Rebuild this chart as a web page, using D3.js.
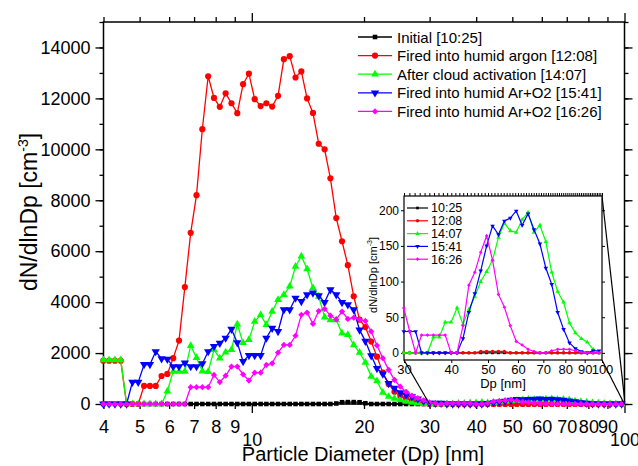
<!DOCTYPE html>
<html><head><meta charset="utf-8">
<script src="https://cdn.jsdelivr.net/npm/d3@7"></script>
<style>body{margin:0;background:#fff} text{font-family:"Liberation Sans",Arial,Helvetica,sans-serif}</style>
</head><body><svg id="c" width="638" height="466"></svg>
<script>
// Particle diameters (nm), SMPS channels
const diameters = [3.996,4.141,4.293,4.450,4.613,4.782,4.958,5.139,5.328,5.523,
5.726,5.935,6.153,6.378,6.612,6.855,7.106,7.366,7.637,7.916,
8.206,8.507,8.819,9.142,9.475,9.822,10.18,10.56,10.94,11.34,
11.76,12.19,12.64,13.10,13.58,14.07,14.59,15.12,15.68,16.25,
16.85,17.46,18.10,18.77,19.46,20.17,20.91,21.67,22.47,23.29,
24.14,25.03,25.94,26.89,27.88,28.90,29.96,31.06,32.20,33.38,
34.59,35.86,37.18,38.54,39.95,41.42,42.94,44.51,46.14,47.83,
49.58,51.40,53.28,55.24,57.26,59.36,61.54,63.79,66.13,68.55,
71.06,73.66,76.36,79.16,82.06,85.07,88.19,91.42,94.77,98.24];

const initial1025 = [0,0,0,0,0,0,0,0,0,0,
0,0,0,0,0,0,0,0,0,0,
0,0,0,0,0,0,0,0,0,0,
0,0,0,0,0,0,0,0,0,0,
20,70,75,75,70,30,0,0,0,0,
0,0,0,0,0,0,0,0,0,0,
0,0,0,0,0,0,0,0,0,0,
0,0,0,0,0,0,0,0,0,0,
0,0,0,0,0,0,0,0,0,0];

const humidArgon1208 = [1700,1700,1700,1700,0,0,0,710,710,710,
1100,1180,1800,2490,4590,6720,8200,10790,12870,12020,
11670,12200,11810,11420,12560,12970,11970,11700,11810,11680,
12100,13540,13660,12820,13060,12000,11430,10220,10000,8860,
7300,6390,5450,4230,3310,3020,2450,1860,1230,790,
480,315,224,130,70,30,0,0,0,0,
0,0,0,0,0,0,0,0,0,2,
2,2,2,2,0,0,0,0,0,0,
0,0,0,0,0,0,0,0,0,0];

const cloudActivation1407 = [1730,1730,1730,1730,0,0,0,0,0,0,
0,500,1280,1280,1280,2290,1820,1290,1270,2130,
1800,2030,2130,3130,2400,2520,3240,3500,3110,3630,
4090,4290,4620,5400,5800,5300,4560,4220,3410,3300,
3300,2780,2720,2320,2020,1630,1080,900,450,290,
220,160,100,60,30,10,0,0,0,0,
0,22,22,43,43,63,40,61,79,100,
114,130,162,182,171,169,187,197,169,179,
156,113,86,71,42,28,20,15,5,0];

const arO2_1541 = [0,0,0,0,0,860,860,1550,1550,2060,
1780,1760,1470,1470,1610,1470,1470,1580,2060,2260,
2390,2590,2940,2410,1670,1910,1910,1910,2590,2980,
2850,3700,3700,4160,4030,4290,4360,4250,3990,4490,
4290,3990,3900,3700,2910,2470,1900,1400,1180,810,
620,445,354,288,200,110,30,30,30,0,
0,0,0,0,0,0,20,57,83,115,
150,178,166,185,189,199,179,195,173,153,
119,96,57,33,14,6,2,0,3,3];

const arO2_1626 = [0,0,0,0,0,0,0,0,0,0,
0,0,0,0,0,660,660,660,660,1140,
860,1110,1470,1470,1160,920,1230,1230,1535,1600,
2020,2320,2320,2680,3500,3590,3150,3650,3740,3470,
3320,3630,3340,3390,3310,3260,2850,2300,1800,1340,
950,680,480,330,230,140,63,30,0,25,
25,25,25,25,0,0,38,95,113,141,
164,130,82,64,38,16,11,5,2,0,
0,3,5,5,5,3,1,0,0,0];

const legendLabels = ["Initial [10:25]","Fired into humid argon [12:08]","After cloud activation [14:07]","Fired into humid Ar+O2 [15:41]","Fired into humid Ar+O2 [16:26]"];
const insetLabels = ["10:25","12:08","14:07","15:41","16:26"];
const yTickValues = [0,2000,4000,6000,8000,10000,12000,14000];
const xMinorLabelTicks = [4,5,6,7,8,9,20,30,40,50,60,70,80,90];
const xMajorLabelTicks = [10,100];
const insetYTickValues = [0,50,100,150,200];
const insetXTickValues = [30,40,50,60,70,80,90,100];

const colors = ["#000000","#ff0000","#00ff00","#0000ff","#ff00ff"];
const seriesValues = [initial1025, humidArgon1208, cloudActivation1407, arO2_1541, arO2_1626];

const svg = d3.select("#c");
const M = {l:103.5, r:624.5, t:22, b:404};
const x = d3.scaleLog().domain([4,100]).range([M.l, M.r]);
const y = d3.scaleLinear().domain([0,15000]).range([M.b, M.t]);

function markerPath(kind, size){
  if(kind===0) return d3.symbol().type(d3.symbolSquare).size(size*0.8)();
  if(kind===1) return d3.symbol().type(d3.symbolCircle).size(size)();
  if(kind===2) return d3.symbol().type(d3.symbolTriangle).size(size)();
  if(kind===3) return d3.symbol().type(d3.symbolTriangle).size(size)();
  return d3.symbol().type(d3.symbolSquare).size(size*0.75)();
}
function markerRot(kind){ return kind===3 ? 180 : (kind===4 ? 45 : 0); }
function mainSize(kind){ return kind===1?30:(kind===3?30:26); }

const series = seriesValues.map((vals,i)=>({
  name: legendLabels[i], color: colors[i], kind: i,
  pts: diameters.map((d,k)=>[d, vals[k]])
}));

const gAx = svg.append("g");
const fontTick = 18;
const yMinor = d3.range(0,15001,1000);
gAx.append("g").attr("transform",`translate(${M.l},0)`)
  .call(d3.axisLeft(y).tickValues(yMinor).tickSize(4).tickFormat(""))
  .call(g=>g.select(".domain").remove());
gAx.append("g").attr("transform",`translate(${M.l},0)`)
  .call(d3.axisLeft(y).tickValues(yTickValues).tickSize(8).tickPadding(5).tickFormat(d3.format("d")))
  .call(g=>g.select(".domain").remove())
  .call(g=>g.selectAll("text").attr("font-size",fontTick).attr("fill","#000").attr("font-family",null));
gAx.append("g").attr("transform",`translate(${M.r},0)`)
  .call(d3.axisRight(y).tickValues(yMinor).tickSize(4).tickFormat(""))
  .call(g=>g.select(".domain").remove());
gAx.append("g").attr("transform",`translate(${M.r},0)`)
  .call(d3.axisRight(y).tickValues(yTickValues).tickSize(8).tickFormat(""))
  .call(g=>g.select(".domain").remove());
gAx.append("g").attr("transform",`translate(0,${M.b})`)
  .call(d3.axisBottom(x).tickValues(xMinorLabelTicks).tickSize(5).tickPadding(11).tickFormat(d3.format("d")))
  .call(g=>g.select(".domain").remove())
  .call(g=>g.selectAll("text").attr("font-size",fontTick).attr("fill","#000").attr("font-family",null));
gAx.append("g").attr("transform",`translate(0,${M.b})`)
  .call(d3.axisBottom(x).tickValues(xMajorLabelTicks).tickSize(9).tickPadding(20).tickFormat(d3.format("d")))
  .call(g=>g.select(".domain").remove())
  .call(g=>g.selectAll("text").attr("font-size",fontTick).attr("fill","#000").attr("font-family",null));
gAx.append("g").attr("transform",`translate(0,${M.t})`)
  .call(d3.axisTop(x).tickValues(xMinorLabelTicks).tickSize(5).tickFormat(""))
  .call(g=>g.select(".domain").remove());
gAx.append("g").attr("transform",`translate(0,${M.t})`)
  .call(d3.axisTop(x).tickValues(xMajorLabelTicks).tickSize(9).tickFormat(""))
  .call(g=>g.select(".domain").remove());
gAx.selectAll("line").attr("stroke","#000").attr("stroke-width",1.3);

svg.append("rect").attr("x",M.l).attr("y",M.t).attr("width",M.r-M.l).attr("height",M.b-M.t)
  .attr("fill","none").attr("stroke","#000").attr("stroke-width",1.5);

svg.append("text").attr("x",(M.l+M.r)/2 - 1).attr("y",461).attr("text-anchor","middle")
  .attr("font-size",20).text("Particle Diameter (Dp) [nm]");
const yt = svg.append("text").attr("transform","translate(37,212) rotate(-90)").attr("text-anchor","middle").attr("font-size",23);
yt.append("tspan").text("dN/dlnDp [cm");
yt.append("tspan").attr("font-size",14).attr("dy",-9).text("-3");
yt.append("tspan").attr("dy",9).text("]");

const line = d3.line().x(d=>x(d[0])).y(d=>y(d[1]));
const gData = svg.append("g");
series.forEach(s=>{
  gData.append("path").attr("d",line(s.pts)).attr("fill","none").attr("stroke",s.color).attr("stroke-width",1.3);
  const mp = markerPath(s.kind, mainSize(s.kind));
  gData.selectAll(null).data(s.pts).enter().append("path")
    .attr("d",mp).attr("fill",s.color)
    .attr("transform",d=>`translate(${x(d[0])},${y(d[1])}) rotate(${markerRot(s.kind)})`);
});

const lg = svg.append("g");
legendLabels.forEach((lab,i)=>{
  const yy = 37 + i*18.6;
  lg.append("line").attr("x1",358).attr("x2",392).attr("y1",yy).attr("y2",yy).attr("stroke",colors[i]).attr("stroke-width",1.3);
  lg.append("path").attr("d",markerPath(i, mainSize(i))).attr("fill",colors[i])
    .attr("transform",`translate(375,${yy}) rotate(${markerRot(i)})`);
  lg.append("text").attr("x",397).attr("y",yy+5.5).attr("font-size",15).text(lab);
});

// inset
const I = {l:404, r:602, t:196, b:360};
const xi = d3.scaleLog().domain([30,100]).range([I.l, I.r]);
const yi = d3.scaleLinear().domain([-10,220]).range([I.b, I.t]);

const conn = svg.append("g").attr("stroke","#000").attr("stroke-width",1.2);
conn.append("line").attr("x1",I.l).attr("y1",I.b).attr("x2",x(30)).attr("y2",y(-10));
conn.append("line").attr("x1",I.r).attr("y1",I.t).attr("x2",x(100)).attr("y2",y(220));
conn.append("line").attr("x1",I.r).attr("y1",I.b).attr("x2",x(100)).attr("y2",y(-10));

svg.append("rect").attr("x",I.l).attr("y",I.t).attr("width",I.r-I.l).attr("height",I.b-I.t).attr("fill","#fff");

const gi = svg.append("g");
const insetMinorX = d3.range(30,101,1);
const fi = 12;
gi.append("g").attr("transform",`translate(0,${I.t})`)
  .call(d3.axisTop(xi).tickValues(insetMinorX).tickSize(3).tickFormat(""))
  .call(g=>g.select(".domain").remove());
gi.append("g").attr("transform",`translate(0,${I.b})`)
  .call(d3.axisBottom(xi).tickValues(insetXTickValues).tickSize(3).tickPadding(2).tickFormat(d3.format("d")))
  .call(g=>g.select(".domain").remove())
  .call(g=>g.selectAll("text").attr("font-size",fi+1).attr("fill","#000").attr("font-family",null));
gi.append("g").attr("transform",`translate(${I.l},0)`)
  .call(d3.axisLeft(yi).tickValues(insetYTickValues).tickSize(3).tickPadding(2).tickFormat(d3.format("d")))
  .call(g=>g.select(".domain").remove())
  .call(g=>g.selectAll("text").attr("font-size",fi).attr("fill","#000").attr("font-family",null));
gi.append("g").attr("transform",`translate(${I.r},0)`)
  .call(d3.axisRight(yi).tickValues(insetYTickValues).tickSize(3).tickFormat(""))
  .call(g=>g.select(".domain").remove());
gi.selectAll("line").attr("stroke","#000").attr("stroke-width",1);
gi.append("rect").attr("x",I.l).attr("y",I.t).attr("width",I.r-I.l).attr("height",I.b-I.t)
  .attr("fill","none").attr("stroke","#000").attr("stroke-width",1.2);

gi.append("text").attr("x",503).attr("y",388).attr("text-anchor","middle").attr("font-size",fi+1).text("Dp [nm]");
const yti = gi.append("text").attr("transform","translate(377,275) rotate(-90)").attr("text-anchor","middle").attr("font-size",11);
yti.append("tspan").text("dN/dlnDp [cm");
yti.append("tspan").attr("font-size",7).attr("dy",-5).text("-3");
yti.append("tspan").attr("dy",5).text("]");

const linei = d3.line().x(d=>xi(d[0])).y(d=>yi(d[1]));
series.forEach(s=>{
  const pts = s.pts.filter(d=>d[0]>=29.9);
  gi.append("path").attr("d",linei(pts)).attr("fill","none").attr("stroke",s.color).attr("stroke-width",1.2);
  const mp = markerPath(s.kind, 9);
  gi.selectAll(null).data(pts).enter().append("path")
    .attr("d",mp).attr("fill",s.color)
    .attr("transform",d=>`translate(${xi(d[0])},${yi(d[1])}) rotate(${markerRot(s.kind)})`);
});

insetLabels.forEach((lab,i)=>{
  const yy = 208 + i*12.8;
  gi.append("line").attr("x1",407).attr("x2",428).attr("y1",yy).attr("y2",yy).attr("stroke",colors[i]).attr("stroke-width",1.2);
  gi.append("path").attr("d",markerPath(i,9)).attr("fill",colors[i])
    .attr("transform",`translate(417.5,${yy}) rotate(${markerRot(i)})`);
  gi.append("text").attr("x",431).attr("y",yy+4.3).attr("font-size",12.5).text(lab);
});
</script></body></html>
